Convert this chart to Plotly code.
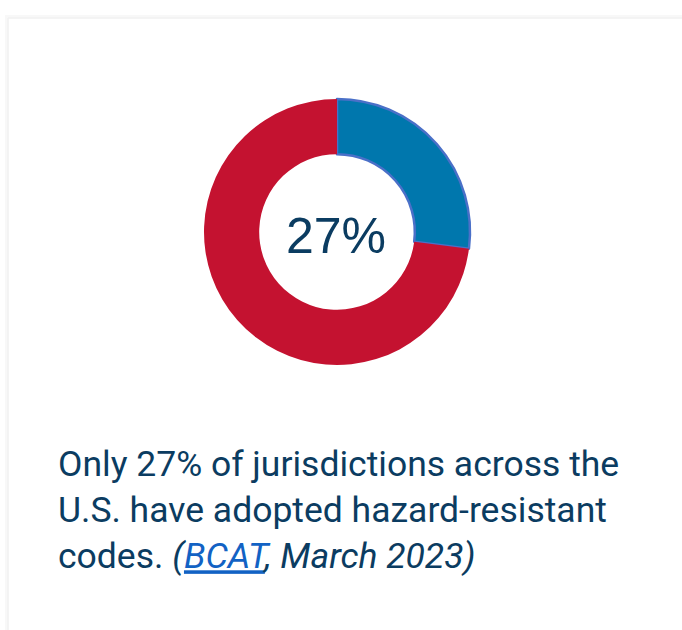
import plotly.graph_objects as go

W, H = 682, 630

# Data
labels = ["Adopted hazard-resistant codes", "Not adopted"]
values = [27, 73]
colors = ["#0077AD", "#C41230"]
center_label = "27%"
caption_lines = [
    "Only 27% of jurisdictions across the",
    "U.S. have adopted hazard-resistant",
    "codes. <i>(<a href='https://bcapcodes.org' style='color:#1262C4'><u>BCAT</u></a>, March 2023)</i>",
]

def px(x):
    return x / W

def py(y):
    return 1 - y / H

cx, cy, r = 337, 232, 133

fig = go.Figure()
fig.add_trace(go.Pie(
    labels=labels,
    values=values,
    sort=False,
    direction="clockwise",
    rotation=0,
    hole=0.585,
    textinfo="none",
    hoverinfo="label+percent",
    marker=dict(colors=colors,
                line=dict(color=["#4A70C8", "rgba(0,0,0,0)"], width=[2.5, 0])),
    domain=dict(x=[px(cx - r), px(cx + r)], y=[py(cy + r), py(cy - r)]),
    showlegend=False,
))

# card outline (soft shadow)
fig.add_shape(type="rect", xref="paper", yref="paper",
              x0=px(7), x1=px(700), y0=py(660), y1=py(17),
              line=dict(color="#f8f8f8", width=4), fillcolor="rgba(0,0,0,0)", layer="below")
fig.add_shape(type="rect", xref="paper", yref="paper",
              x0=px(8), x1=px(700), y0=py(660), y1=py(18),
              line=dict(color="#efefef", width=1), fillcolor="rgba(0,0,0,0)", layer="below")

fig.add_annotation(x=px(336), y=py(236), xref="paper", yref="paper",
                   text=center_label, showarrow=False, xanchor="center", yanchor="middle",
                   font=dict(family="Liberation Sans, Arial", size=50, color="#0B3C61"))

fig.add_annotation(x=px(56), y=py(510), xref="paper", yref="paper",
                   text="<br>".join(caption_lines), showarrow=False,
                   xanchor="left", yanchor="middle", align="left",
                   font=dict(family="Roboto", size=35.5, color="#0B3C61"))

fig.update_layout(
    width=W, height=H,
    margin=dict(l=0, r=0, t=0, b=0),
    paper_bgcolor="white", plot_bgcolor="white",
)

fig.write_html("out.html", config={"displayModeBar": False},
               post_script="document.body.style.margin='0';document.body.style.overflow='hidden';")
